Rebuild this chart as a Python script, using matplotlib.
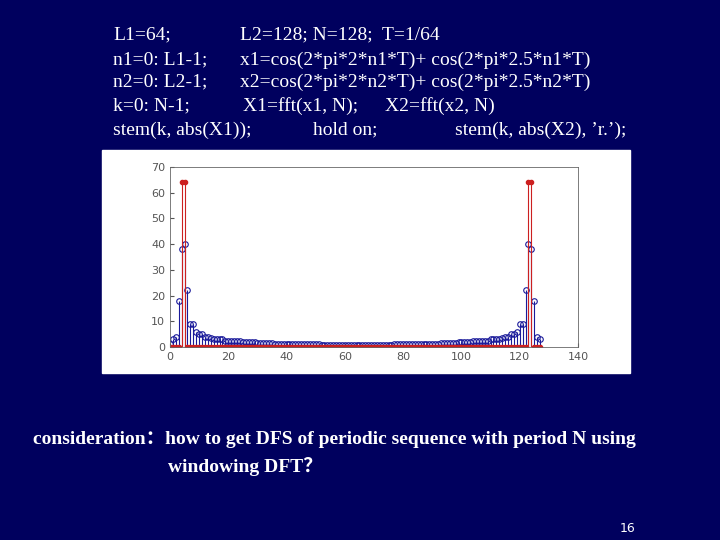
import matplotlib.pyplot as plt
from matplotlib.patches import Rectangle

# |X1| (64 samples, 128-pt fft)
x1_half = [1, 3, 4, 18, 38, 40, 22, 9, 9, 6, 5, 5, 4, 4, 3.5, 3, 3, 3, 3, 2.5,
           2.5, 2.5, 2.2, 2.2, 2.2, 2, 2, 2, 1.8, 1.8, 1.6, 1.6, 1.5, 1.5, 1.4, 1.4,
           1.3, 1.3, 1.2, 1.2, 1.2, 1.1, 1.1, 1.1, 1.1, 1.0, 1.0, 1.0, 1.0, 1.0,
           1.0, 1.0, 0.9, 0.9, 0.9, 0.9, 0.9, 0.9, 0.9, 0.9, 0.9, 0.9, 0.9, 0.9, 0.9]
X1 = x1_half + x1_half[1:64][::-1]
k = list(range(128))
X2 = [0.0] * 128
for i in (4, 5, 123, 124):
    X2[i] = 64.0

bg = "#00005e"
fig = plt.figure(figsize=(7.2, 5.4), dpi=100)
fig.patch.set_facecolor(bg)

# white picture area
fig.patches.append(Rectangle((102 / 720, 1 - 373 / 540), 528 / 720, 223 / 540,
                             transform=fig.transFigure, color="white", zorder=0))

ax = fig.add_axes([170 / 720, 1 - 347 / 540, 408 / 720, 180 / 540])
ax.set_zorder(2)
ax.set_facecolor("white")
m, s, b = ax.stem(k, X1, linefmt="#1a1a9a", markerfmt="o", basefmt=" ")
plt.setp(m, markersize=4, markerfacecolor="none", markeredgecolor="#1a1a9a", markeredgewidth=0.8)
plt.setp(s, linewidth=0.8)
m, s, b = ax.stem(k, X2, linefmt="#cc2020", markerfmt="r.", basefmt=" ")
plt.setp(m, markersize=6, color="#cc2020")
plt.setp(s, linewidth=0.8)
ax.set_xlim(0, 140)
ax.set_ylim(0, 70)
ax.set_xticks(range(0, 141, 20))
ax.set_yticks(range(0, 71, 10))
ax.tick_params(direction="in", labelsize=8, colors="#555555", length=3)
for sp in ax.spines.values():
    sp.set_color("#666666")
    sp.set_linewidth(0.6)

serif = "Liberation Serif"
rows = [
    (35, [(113, "L1=64;"), (240, "L2=128; N=128;  T=1/64")]),
    (60, [(113, "n1=0: L1-1;"), (240, "x1=cos(2*pi*2*n1*T)+ cos(2*pi*2.5*n1*T)")]),
    (82, [(113, "n2=0: L2-1;"), (240, "x2=cos(2*pi*2*n2*T)+ cos(2*pi*2.5*n2*T)")]),
    (106, [(113, "k=0: N-1;"), (243, "X1=fft(x1, N);"), (385, "X2=fft(x2, N)")]),
    (130, [(113, "stem(k, abs(X1));"), (313, "hold on;"), (455, "stem(k, abs(X2), ’r.’);")]),
]
for y, items in rows:
    for x, t in items:
        fig.text(x / 720, 1 - y / 540, t, color="white", fontsize=14,
                 family=serif, va="center", ha="left")

fig.text(33 / 720, 1 - 440 / 540, "consideration：how to get DFS of periodic sequence with period N using",
         color="white", fontsize=14, family=[serif, "Noto Sans CJK SC"], weight="bold", va="center")
fig.text(168 / 720, 1 - 467 / 540, "windowing DFT？", color="white", fontsize=14,
         family=[serif, "Noto Sans CJK SC"], weight="bold", va="center")
fig.text(620 / 720, 1 - 528 / 540, "16", color="white", fontsize=9, va="center", ha="left")

fig.savefig("out.png", facecolor=bg)
